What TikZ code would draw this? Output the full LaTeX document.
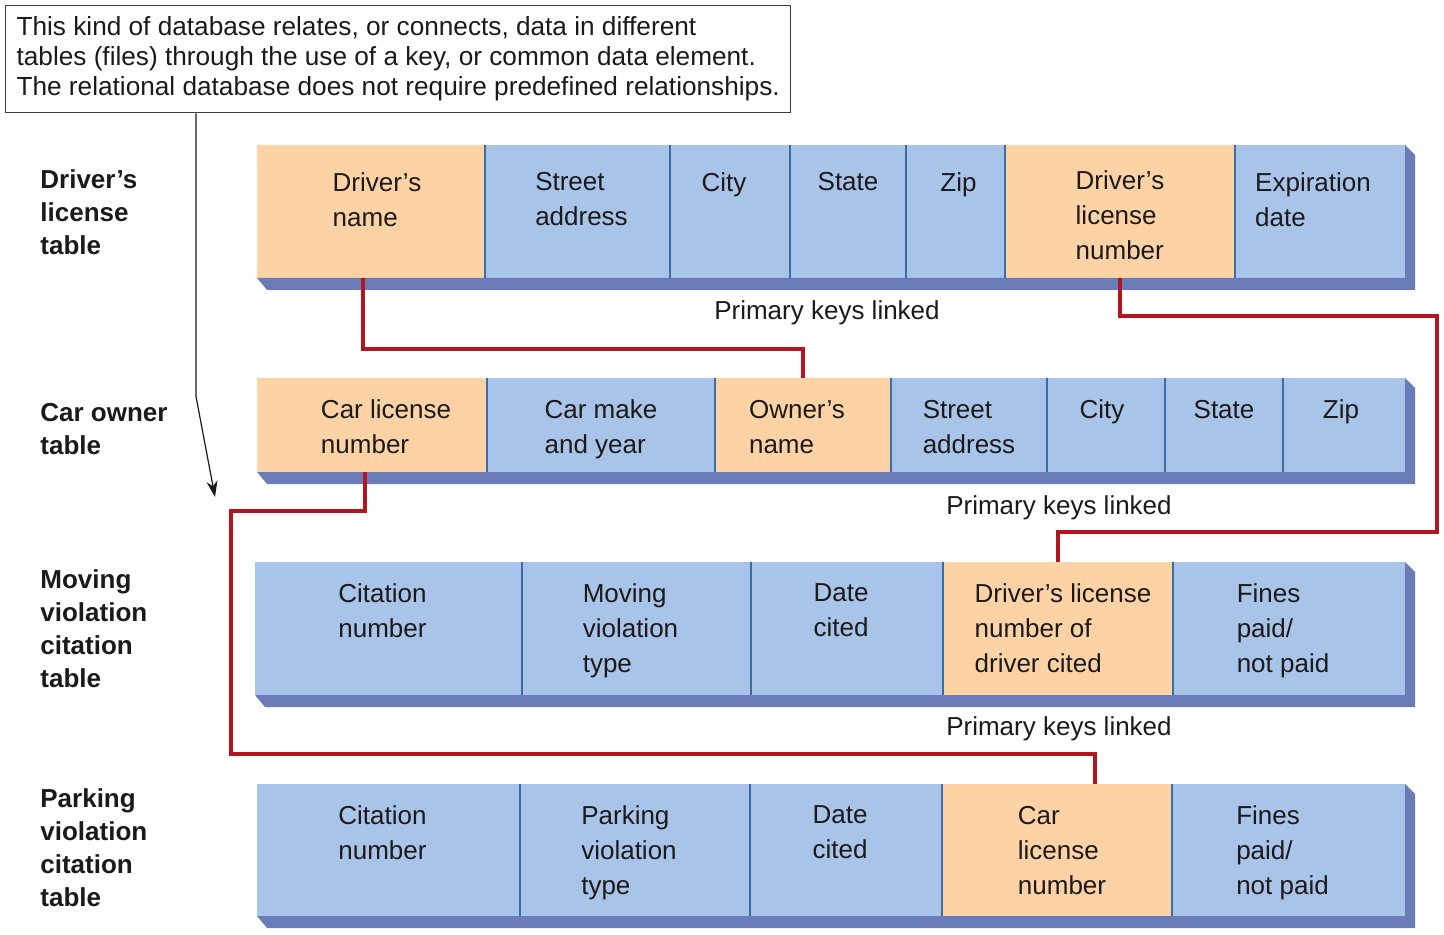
\documentclass[tikz,border=0pt]{standalone}
\usepackage{fontspec}
\setmainfont{Liberation Sans}
\usetikzlibrary{positioning, arrows.meta}

\definecolor{keyorange}{RGB}{253,211,166}
\definecolor{fieldblue}{RGB}{169,196,233}
\definecolor{shadowblue}{RGB}{106,124,184}
\definecolor{dividerblue}{RGB}{62,108,166}
\definecolor{linkred}{RGB}{178,20,32}
\definecolor{inkgray}{RGB}{28,25,26}

\begin{document}
\begin{tikzpicture}[x=0.5pt, y=-0.5pt,
    cell/.style={minimum height=#1, inner sep=0pt, outer sep=0pt, fill=fieldblue},
    cell/.default=66.5pt,
    keycell/.style={cell=#1, fill=keyorange},
    keycell/.default=66.5pt,
    celltext/.style={anchor=north, yshift=#1, inner sep=0pt, align=left, text=inkgray,
        font=\fontsize{13pt}{17.5pt}\selectfont},
    celltext/.default=-10.8pt,
    divider/.style={draw=dividerblue, line width=0.9pt},
    tablabel/.style={anchor=north west, inner sep=0pt, align=left, text=inkgray,
        font=\bfseries\fontsize{13pt}{16.5pt}\selectfont},
    keynote/.style={inner sep=0pt, text=inkgray, font=\fontsize{13pt}{15pt}\selectfont},
    notebox/.style={draw=inkgray!85, line width=0.7pt, inner sep=0pt, align=left, text=inkgray,
        minimum width=392.5pt, minimum height=53.5pt, font=\fontsize{13.1pt}{15pt}\selectfont},
    keylink/.style={draw=linkred, line width=2.4pt},
    pointer/.style={draw=inkgray, line width=0.6pt, -{Stealth[length=8pt, width=5.5pt, inset=2.5pt]}}]
    \useasboundingbox (0,0) rectangle (1444,935);

    % explanation box
    \node[notebox, anchor=north west] (note) at (5,5) {This kind of database relates, or connects, data in different\\tables (files) through the use of a key, or common data element.\\The relational database does not require predefined relationships.};

    % table names
    \node[tablabel] (lab1) at (40,169) {Driver’s\\license\\table};
    \node[tablabel] (lab2) at (40,403) {Car owner\\table};
    \node[tablabel] (lab3) at (40,569) {Moving\\violation\\citation\\table};
    \node[tablabel] (lab4) at (40,788) {Parking\\violation\\citation\\table};

    % driver's license table
    \node[keycell, minimum width=114pt, anchor=north west, label={[celltext=-13.5pt, xshift=3pt]north:{Driver’s\\name}}] (d1) at (257,145) {};
    \node[cell, minimum width=92.5pt, right=0pt of d1, label={[celltext=-13.5pt, xshift=2pt]north:{Street\\address}}] (d2) {};
    \node[cell, minimum width=60pt, right=0pt of d2, label={[celltext=-13.5pt, xshift=-3pt]north:{City}}] (d3) {};
    \node[cell, minimum width=58pt, right=0pt of d3, label={[celltext=-13.5pt]north:{State}}] (d4) {};
    \node[cell, minimum width=49.5pt, right=0pt of d4, label={[celltext=-13.5pt, xshift=1.5pt]north:{Zip}}] (d5) {};
    \node[keycell, minimum width=115pt, right=0pt of d5, label={[celltext=-12.5pt]north:{Driver’s\\license\\number}}] (d6) {};
    \node[cell, minimum width=85pt, right=0pt of d6, label={[celltext=-13.5pt, xshift=-3.5pt]north:{Expiration\\date}}] (d7) {};
    \fill[shadowblue] (d1.south west) -- ++(10,12) -| ([shift={(10,10)}]d7.north east) -- (d7.north east) -- (d7.south east) -- cycle;
    \draw[divider] (d1.north east) -- (d1.south east) (d2.north east) -- (d2.south east)
        (d3.north east) -- (d3.south east) (d4.north east) -- (d4.south east)
        (d5.north east) -- (d5.south east) (d6.north east) -- (d6.south east);

    % car owner table
    \node[keycell=47pt, minimum width=115pt, anchor=north west, label={[celltext, xshift=7pt]north:{Car license\\number}}] (c1) at (257,378) {};
    \node[cell=47pt, minimum width=114pt, right=0pt of c1, label={[celltext]north:{Car make\\and year}}] (c2) {};
    \node[keycell=47pt, minimum width=88pt, right=0pt of c2, label={[celltext, xshift=-3pt]north:{Owner’s\\name}}] (c3) {};
    \node[cell=47pt, minimum width=78pt, right=0pt of c3, label={[celltext]north:{Street\\address}}] (c4) {};
    \node[cell=47pt, minimum width=59pt, right=0pt of c4, label={[celltext, xshift=-2pt]north:{City}}] (c5) {};
    \node[cell=47pt, minimum width=59pt, right=0pt of c5, label={[celltext]north:{State}}] (c6) {};
    \node[cell=47pt, minimum width=61pt, right=0pt of c6, label={[celltext, xshift=-1.5pt]north:{Zip}}] (c7) {};
    \fill[shadowblue] (c1.south west) -- ++(10,12) -| ([shift={(10,10)}]c7.north east) -- (c7.north east) -- (c7.south east) -- cycle;
    \draw[divider] (c1.north east) -- (c1.south east) (c2.north east) -- (c2.south east)
        (c3.north east) -- (c3.south east) (c4.north east) -- (c4.south east)
        (c5.north east) -- (c5.south east) (c6.north east) -- (c6.south east);

    % moving violation citation table
    \node[cell, minimum width=133.5pt, anchor=north west, label={[celltext, xshift=-3pt]north:{Citation\\number}}] (m1) at (255,562) {};
    \node[cell, minimum width=114.5pt, right=0pt of m1, label={[celltext, xshift=-3pt]north:{Moving\\violation\\type}}] (m2) {};
    \node[cell, minimum width=96pt, right=0pt of m2, label={[celltext, xshift=-3pt]north:{Date\\cited}}] (m3) {};
    \node[keycell, minimum width=115pt, right=0pt of m3, label={[celltext, xshift=2.5pt]north:{Driver’s license\\number of\\driver cited}}] (m4) {};
    \node[cell, minimum width=116pt, right=0pt of m4, label={[celltext, xshift=-3pt]north:{Fines\\paid/\\not paid}}] (m5) {};
    \fill[shadowblue] (m1.south west) -- ++(10,12) -| ([shift={(10,10)}]m5.north east) -- (m5.north east) -- (m5.south east) -- cycle;
    \draw[divider] (m1.north east) -- (m1.south east) (m2.north east) -- (m2.south east)
        (m3.north east) -- (m3.south east) (m4.north east) -- (m4.south east);

    % parking violation citation table
    \node[cell=66pt, minimum width=131.5pt, anchor=north west, label={[celltext, xshift=-3pt]north:{Citation\\number}}] (p1) at (257,784) {};
    \node[cell=66pt, minimum width=115pt, right=0pt of p1, label={[celltext, xshift=-3pt]north:{Parking\\violation\\type}}] (p2) {};
    \node[cell=66pt, minimum width=96pt, right=0pt of p2, label={[celltext, xshift=-3pt]north:{Date\\cited}}] (p3) {};
    \node[keycell=66pt, minimum width=115pt, right=0pt of p3, label={[celltext, xshift=2.5pt]north:{Car\\license\\number}}] (p4) {};
    \node[cell=66pt, minimum width=116.5pt, right=0pt of p4, label={[celltext, xshift=-3pt]north:{Fines\\paid/\\not paid}}] (p5) {};
    \fill[shadowblue] (p1.south west) -- ++(10,12) -| ([shift={(10,10)}]p5.north east) -- (p5.north east) -- (p5.south east) -- cycle;
    \draw[divider] (p1.north east) -- (p1.south east) (p2.north east) -- (p2.south east)
        (p3.north east) -- (p3.south east) (p4.north east) -- (p4.south east);

    % key links
    \node[keynote] (pk1) at (827,313) {Primary keys linked};
    \node[keynote] (pk2) at (1059,508) {Primary keys linked};
    \node[keynote] (pk3) at (1059,729) {Primary keys linked};
    \draw[keylink] ([xshift=-4pt]d1.south) -- ++(0,71) -| (c3.north);
    \draw[keylink] (d6.south) -- ++(0,38) -- ++(317,0) -- ++(0,216) -| (m4.north);
    \draw[keylink] ([xshift=-3.5pt]c1.south) -- ++(0,39) -- ++(-134,0) -- ++(0,243) -| ([xshift=19pt]p4.north);

    % pointer from the box
    \coordinate (tip) at (215,497);
    \draw[pointer] ([xshift=95.5pt]note.south west) -- ++(0,283) -- (tip);
\end{tikzpicture}
\end{document}
